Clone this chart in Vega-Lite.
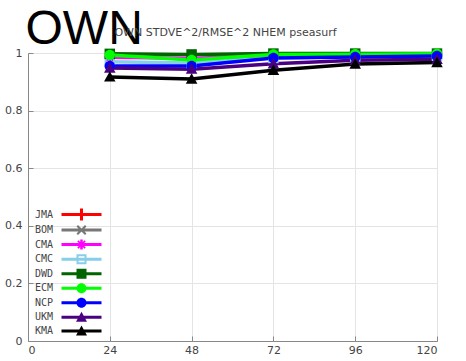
{
  "$schema": "https://vega.github.io/schema/vega-lite/v6.json",
  "autosize": {"type": "none"},
  "width": 409,
  "height": 288,
  "padding": {"left": 28, "top": 53, "right": 29, "bottom": 20},
  "background": "white",
  "config": {
    "view": {"stroke": "#888888", "strokeWidth": 1},
    "font": "DejaVu Sans"
  },
  "title": {
    "text": "OWN STDVE^2/RMSE^2 NHEM pseasurf",
    "font": "DejaVu Sans",
    "fontSize": 11,
    "fontWeight": "normal",
    "color": "#444444",
    "anchor": "middle",
    "offset": 0,
    "dy": 33,
    "dx": -7
  },
  "data": {
    "values": [
      {"model": "CMA", "lead": 24, "value": 0.985},
      {"model": "CMA", "lead": 48, "value": 0.982},
      {"model": "CMA", "lead": 72, "value": 0.99},
      {"model": "CMA", "lead": 96, "value": 0.993},
      {"model": "CMA", "lead": 120, "value": 0.995},
      {"model": "CMC", "lead": 24, "value": 0.97},
      {"model": "CMC", "lead": 48, "value": 0.965},
      {"model": "CMC", "lead": 72, "value": 0.983},
      {"model": "CMC", "lead": 96, "value": 0.988},
      {"model": "CMC", "lead": 120, "value": 0.99},
      {"model": "DWD", "lead": 24, "value": 0.997},
      {"model": "DWD", "lead": 48, "value": 0.995},
      {"model": "DWD", "lead": 72, "value": 0.998},
      {"model": "DWD", "lead": 96, "value": 0.998},
      {"model": "DWD", "lead": 120, "value": 0.998},
      {"model": "ECM", "lead": 24, "value": 0.993},
      {"model": "ECM", "lead": 48, "value": 0.976},
      {"model": "ECM", "lead": 72, "value": 0.995},
      {"model": "ECM", "lead": 96, "value": 0.996},
      {"model": "ECM", "lead": 120, "value": 0.997},
      {"model": "NCP", "lead": 24, "value": 0.955},
      {"model": "NCP", "lead": 48, "value": 0.955},
      {"model": "NCP", "lead": 72, "value": 0.983},
      {"model": "NCP", "lead": 96, "value": 0.986},
      {"model": "NCP", "lead": 120, "value": 0.99},
      {"model": "UKM", "lead": 24, "value": 0.948},
      {"model": "UKM", "lead": 48, "value": 0.944},
      {"model": "UKM", "lead": 72, "value": 0.963},
      {"model": "UKM", "lead": 96, "value": 0.975},
      {"model": "UKM", "lead": 120, "value": 0.978},
      {"model": "KMA", "lead": 24, "value": 0.917},
      {"model": "KMA", "lead": 48, "value": 0.91},
      {"model": "KMA", "lead": 72, "value": 0.94},
      {"model": "KMA", "lead": 96, "value": 0.962},
      {"model": "KMA", "lead": 120, "value": 0.967}
    ]
  },
  "encoding": {
    "x": {
      "field": "lead", "type": "quantitative",
      "scale": {"domain": [0, 120], "nice": false},
      "axis": {
        "values": [0, 24, 48, 72, 96, 120],
        "title": null,
        "labelFont": "DejaVu Sans", "labelFontSize": 11, "labelColor": "#444444",
        "domainColor": "#888888", "tickColor": "#888888", "tickSize": -5,
        "labelPadding": 8,
        "grid": true, "gridColor": "#e4e4e4", "gridWidth": 1
      }
    },
    "y": {
      "field": "value", "type": "quantitative",
      "scale": {"domain": [0, 1], "nice": false},
      "axis": {
        "values": [0, 0.2, 0.4, 0.6, 0.8, 1],
        "format": "~g",
        "labelFont": "DejaVu Sans", "labelFontSize": 11, "labelColor": "#444444",
        "domainColor": "#888888", "tickColor": "#888888", "tickSize": -5,
        "labelPadding": 11,
        "grid": true, "gridColor": "#e4e4e4", "gridWidth": 1,
        "title": "OWN",
        "titleAngle": 0, "titleX": -3, "titleY": -10,
        "titleAlign": "left", "titleBaseline": "alphabetic",
        "titleFont": "Liberation Sans", "titleFontSize": 48, "titleFontWeight": "normal",
        "titleColor": "#000000"
      }
    }
  },
  "layer": [
    {
      "mark": {"type": "line", "strokeWidth": 3.5},
      "encoding": {
        "color": {
          "field": "model", "type": "nominal",
          "scale": {
            "domain": ["JMA", "BOM", "CMA", "CMC", "DWD", "ECM", "NCP", "UKM", "KMA"],
            "range": ["#ff0000", "#777777", "#ff00ff", "#87ceeb", "#006400", "#00ff00", "#0000ff", "#4b0082", "#000000"]
          },
          "legend": null
        },
        "order": {"field": "lead"}
      }
    },
    {
      "mark": {"type": "point", "filled": true, "size": 110, "opacity": 1, "strokeWidth": 1},
      "encoding": {
        "color": {
          "field": "model", "type": "nominal",
          "scale": {
            "domain": ["JMA", "BOM", "CMA", "CMC", "DWD", "ECM", "NCP", "UKM", "KMA"],
            "range": ["#ff0000", "#777777", "#ff00ff", "#87ceeb", "#006400", "#00ff00", "#0000ff", "#4b0082", "#000000"]
          },
          "legend": null
        },
        "shape": {
          "field": "model", "type": "nominal",
          "scale": {
            "domain": ["JMA", "BOM", "CMA", "CMC", "DWD", "ECM", "NCP", "UKM", "KMA"],
            "range": [
              "M-1,-0.3H1V0.3H-1Z M-0.3,-1H0.3V1H-0.3Z",
              "M-1,-0.7L-0.7,-1L1,0.7L0.7,1Z M0.7,-1L1,-0.7L-0.7,1L-1,0.7Z",
              "M-1,-0.25H1V0.25H-1Z M-0.25,-1H0.25V1H-0.25Z M-0.85,-0.6L-0.6,-0.85L0.85,0.6L0.6,0.85Z M0.6,-0.85L0.85,-0.6L-0.6,0.85L-0.85,0.6Z",
              "M-1,-1H1V1H-1Z M-0.6,-0.6V0.6H0.6V-0.6Z",
              "M-1,-1H1V1H-1Z",
              "M-1,0A1,1 0 1,1 1,0A1,1 0 1,1 -1,0Z",
              "M-1,0A1,1 0 1,1 1,0A1,1 0 1,1 -1,0Z",
              "M0,-1.1L1.1,0.9H-1.1Z",
              "M0,-1.1L1.1,0.9H-1.1Z"
            ]
          },
          "legend": null
        }
      }
    },
    {
      "transform": [{"filter": "false"}],
      "mark": {"type": "point", "filled": true, "size": 100, "opacity": 1},
      "encoding": {
        "color": {
          "field": "model", "type": "nominal",
          "scale": {
            "domain": ["JMA", "BOM", "CMA", "CMC", "DWD", "ECM", "NCP", "UKM", "KMA"],
            "range": ["#ff0000", "#777777", "#ff00ff", "#87ceeb", "#006400", "#00ff00", "#0000ff", "#4b0082", "#000000"]
          },
          "legend": {
            "orient": "none", "legendX": -6, "legendY": 156,
            "title": null, "padding": 0,
            "labelAlign": "left", "labelOffset": 2,
            "labelFont": "DejaVu Sans Mono", "labelFontSize": 10, "labelColor": "#444444",
            "symbolSize": 100, "symbolStrokeWidth": 1, "symbolOpacity": 1,
            "rowPadding": -0.45
          }
        },
        "shape": {
          "field": "model", "type": "nominal",
          "scale": {
            "domain": ["JMA", "BOM", "CMA", "CMC", "DWD", "ECM", "NCP", "UKM", "KMA"],
            "range": [
              "M6.8,-0.3H14.8V0.3H6.8Z M10.5,-1.2H11.1V1.2H10.5Z",
              "M6.8,-0.3H14.8V0.3H6.8Z M9.8,-0.7L10.1,-1L11.8,0.7L11.5,1Z M11.5,-1L11.8,-0.7L10.1,1L9.8,0.7Z",
              "M6.8,-0.3H14.8V0.3H6.8Z M10.55,-1H11.05V1H10.55Z M9.95,-0.6L10.2,-0.85L11.65,0.6L11.4,0.85Z M11.4,-0.85L11.65,-0.6L10.2,0.85L9.95,0.6Z",
              "M6.8,-0.3H14.8V0.3H6.8Z M9.8,-1H11.8V1H9.8Z M10.2,-0.6V0.6H11.4V-0.6Z",
              "M6.8,-0.3H14.8V0.3H6.8Z M9.8,-1H11.8V1H9.8Z",
              "M6.8,-0.3H14.8V0.3H6.8Z M9.8,0A1,1 0 1,1 11.8,0A1,1 0 1,1 9.8,0Z",
              "M6.8,-0.3H14.8V0.3H6.8Z M9.8,0A1,1 0 1,1 11.8,0A1,1 0 1,1 9.8,0Z",
              "M6.8,-0.3H14.8V0.3H6.8Z M10.8,-1.1L11.9,0.9H9.7Z",
              "M6.8,-0.3H14.8V0.3H6.8Z M10.8,-1.1L11.9,0.9H9.7Z"
            ]
          }
        }
      }
    }
  ],
  "resolve": {"scale": {"color": "independent", "shape": "independent"}}
}
